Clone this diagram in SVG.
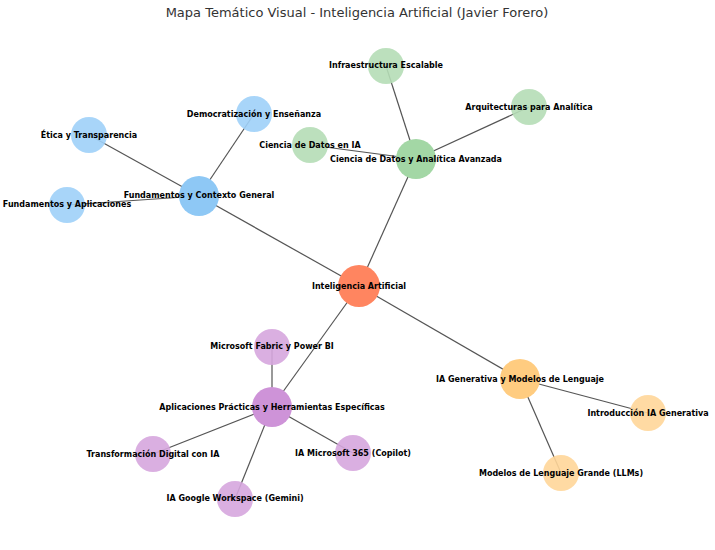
<svg xmlns="http://www.w3.org/2000/svg" width="715" height="550" viewBox="0 0 715 550">
<style>
.t{font-family:"DejaVu Sans","Liberation Sans",sans-serif;font-size:8px;font-weight:bold;fill:#000;text-anchor:middle}
.title{font-family:"DejaVu Sans","Liberation Sans",sans-serif;font-size:13px;fill:#333;text-anchor:middle}
#edges line{stroke:#555;stroke-width:1.2}
.c0{fill:#FF8560}
.b1{fill:#8EC8F5}.b2{fill:#9FD0F8;fill-opacity:.9}
.g1{fill:#A3D7A5}.g2{fill:#B5DDB6;fill-opacity:.9}
.p1{fill:#CE93D8}.p2{fill:#D6A6DE;fill-opacity:.9}
.o1{fill:#FFCC80}.o2{fill:#FFD699;fill-opacity:.9}
</style>
<rect width="715" height="550" fill="#fff"/>
<text class="title" x="357" y="17">Mapa Temático Visual - Inteligencia Artificial (Javier Forero)</text>
<g id="edges">
<line x1="359" y1="286" x2="199" y2="196"/>
<line x1="359" y1="286" x2="416" y2="159"/>
<line x1="359" y1="286" x2="272" y2="407"/>
<line x1="359" y1="286" x2="520" y2="379"/>
<line x1="199" y1="196" x2="89" y2="135"/>
<line x1="199" y1="196" x2="67" y2="205"/>
<line x1="199" y1="196" x2="254" y2="114"/>
<line x1="416" y1="159" x2="310" y2="145"/>
<line x1="416" y1="159" x2="386" y2="66"/>
<line x1="416" y1="159" x2="529" y2="107"/>
<line x1="272" y1="407" x2="272" y2="347"/>
<line x1="272" y1="407" x2="153" y2="454"/>
<line x1="272" y1="407" x2="353" y2="453"/>
<line x1="272" y1="407" x2="235" y2="499"/>
<line x1="520" y1="379" x2="648" y2="413"/>
<line x1="520" y1="379" x2="561" y2="473"/>
</g>
<g id="n-ia"><circle class="c0" cx="359" cy="286" r="21"/><text class="t" x="359" y="289">Inteligencia Artificial</text></g>
<g id="n-fund"><circle class="b1" cx="199" cy="196" r="20"/><text class="t" x="199" y="198">Fundamentos y Contexto General</text></g>
<g id="n-etica"><circle class="b2" cx="89" cy="135" r="18"/><text class="t" x="89" y="138">Ética y Transparencia</text></g>
<g id="n-fundap"><circle class="b2" cx="67" cy="205" r="18"/><text class="t" x="67" y="207">Fundamentos y Aplicaciones</text></g>
<g id="n-democ"><circle class="b2" cx="254" cy="114" r="18"/><text class="t" x="254" y="117">Democratización y Enseñanza</text></g>
<g id="n-cd"><circle class="g1" cx="416" cy="159" r="20"/><text class="t" x="416" y="162">Ciencia de Datos y Analítica Avanzada</text></g>
<g id="n-cdia"><circle class="g2" cx="310" cy="145" r="18"/><text class="t" x="310" y="148">Ciencia de Datos en IA</text></g>
<g id="n-infra"><circle class="g2" cx="386" cy="66" r="18"/><text class="t" x="386" y="68">Infraestructura Escalable</text></g>
<g id="n-arq"><circle class="g2" cx="529" cy="107" r="18"/><text class="t" x="529" y="110">Arquitecturas para Analítica</text></g>
<g id="n-apl"><circle class="p1" cx="272" cy="407" r="20"/><text class="t" x="272" y="410">Aplicaciones Prácticas y Herramientas Específicas</text></g>
<g id="n-fabric"><circle class="p2" cx="272" cy="347" r="18"/><text class="t" x="272" y="349">Microsoft Fabric y Power BI</text></g>
<g id="n-transf"><circle class="p2" cx="153" cy="454" r="18"/><text class="t" x="153" y="457">Transformación Digital con IA</text></g>
<g id="n-365"><circle class="p2" cx="353" cy="453" r="18"/><text class="t" x="353" y="456">IA Microsoft 365 (Copilot)</text></g>
<g id="n-google"><circle class="p2" cx="235" cy="499" r="18"/><text class="t" x="235" y="501">IA Google Workspace (Gemini)</text></g>
<g id="n-gen"><circle class="o1" cx="520" cy="379" r="20"/><text class="t" x="520" y="382">IA Generativa y Modelos de Lenguaje</text></g>
<g id="n-intro"><circle class="o2" cx="648" cy="413" r="18"/><text class="t" x="648" y="416">Introducción IA Generativa</text></g>
<g id="n-llm"><circle class="o2" cx="561" cy="473" r="18"/><text class="t" x="561" y="476">Modelos de Lenguaje Grande (LLMs)</text></g>
</svg>
